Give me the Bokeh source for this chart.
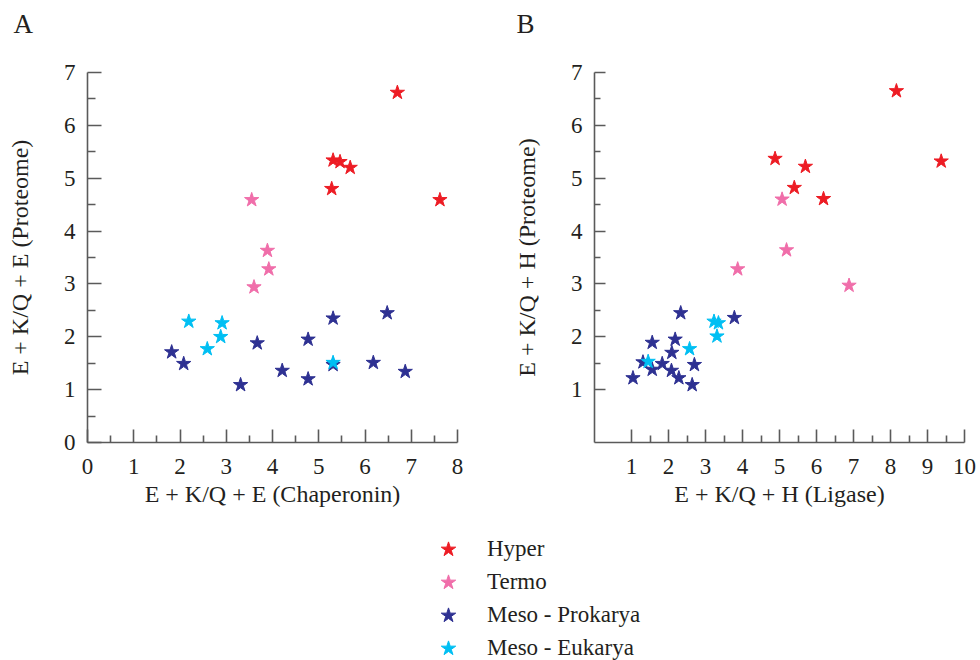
from bokeh.plotting import figure
from bokeh.models import FixedTicker, Legend, LegendItem, Range1d, Title
from bokeh.layouts import column, row
from bokeh.core.properties import value
from bokeh.embed import file_html
from bokeh.resources import INLINE

categories = ["Hyper", "Termo", "Meso - Prokarya", "Meso - Eukarya"]
colors = ["#ed1c24", "#f06eaa", "#2e3192", "#00bff3"]

# Panel A : x = E + K/Q + E (Chaperonin), y = E + K/Q + E (Proteome)
a_hyper_x = [6.70, 5.31, 5.46, 5.68, 5.28, 7.62]
a_hyper_y = [6.62, 5.34, 5.31, 5.20, 4.80, 4.59]
a_termo_x = [3.55, 3.89, 3.92, 3.60]
a_termo_y = [4.59, 3.63, 3.28, 2.94]
a_prok_x = [1.82, 2.08, 3.31, 3.67, 4.21, 4.77, 4.77, 5.31, 5.31, 6.18, 6.48, 6.87]
a_prok_y = [1.71, 1.49, 1.09, 1.88, 1.36, 1.95, 1.20, 2.35, 1.47, 1.51, 2.45, 1.34]
a_euk_x = [2.19, 2.59, 2.88, 2.91, 5.31]
a_euk_y = [2.29, 1.77, 2.00, 2.26, 1.51]

# Panel B : x = E + K/Q + H (Ligase), y = E + K/Q + H (Proteome)
b_hyper_x = [8.16, 9.37, 4.88, 5.70, 5.40, 6.19]
b_hyper_y = [6.65, 5.32, 5.37, 5.22, 4.82, 4.61]
b_termo_x = [5.07, 5.19, 3.87, 6.88]
b_termo_y = [4.60, 3.64, 3.28, 2.97]
b_prok_x = [1.04, 1.31, 1.56, 1.56, 1.83, 2.08, 2.09, 2.18, 2.33, 2.28, 2.64, 2.70, 3.78]
b_prok_y = [1.22, 1.52, 1.89, 1.38, 1.49, 1.36, 1.70, 1.95, 2.45, 1.22, 1.09, 1.47, 2.36]
b_euk_x = [1.45, 2.57, 3.23, 3.35, 3.31]
b_euk_y = [1.53, 1.77, 2.29, 2.26, 2.01]

a_xticks = [0, 1, 2, 3, 4, 5, 6, 7, 8]
a_xminor = [0.5, 1.5, 2.5, 3.5, 4.5, 5.5, 6.5, 7.5]
a_yticks = [0, 1, 2, 3, 4, 5, 6, 7]
a_yminor = [0.5, 1.5, 2.5, 3.5, 4.5, 5.5, 6.5]
b_xticks = [1, 2, 3, 4, 5, 6, 7, 8, 9, 10]
b_xminor = [1.5, 2.5, 3.5, 4.5, 5.5, 6.5, 7.5, 8.5, 9.5]
b_yticks = [1, 2, 3, 4, 5, 6, 7]
b_yminor = [1.5, 2.5, 3.5, 4.5, 5.5, 6.5]

FONT = "Liberation Serif"
TXT = "#231f20"
AX = "#5a5a5a"


def make_panel(letter, xr, yr, xticks, xminor, yticks, yminor, xlabel, ylabel,
               series, width, left, right, ymaj, ymin_len, letter_offset):
    p = figure(width=width, height=514, x_range=xr, y_range=yr,
               toolbar_location=None, output_backend="svg",
               min_border_left=left, min_border_right=right,
               min_border_top=72, min_border_bottom=72, title=letter)
    p.outline_line_color = None
    p.grid.visible = False
    p.background_fill_color = "white"
    p.border_fill_color = "white"
    p.title.align = "left"
    p.title.offset = letter_offset
    p.title.text_font = FONT
    p.title.text_font_size = "27px"
    p.title.text_font_style = "normal"
    p.title.text_color = TXT
    # blank spacer between the panel letter and the plot area
    p.add_layout(Title(text=" ", text_font_size="15px"), "above")
    for (xs, ys), col in zip(series, colors):
        p.scatter(x=xs, y=ys, marker="star", size=15, fill_color=col,
                  line_color=col)
    p.xaxis.ticker = FixedTicker(ticks=xticks, minor_ticks=xminor)
    p.yaxis.ticker = FixedTicker(ticks=yticks, minor_ticks=yminor)
    for ax in (p.xaxis[0], p.yaxis[0]):
        ax.axis_line_color = AX
        ax.axis_line_width = 1.6
        ax.major_tick_line_color = AX
        ax.minor_tick_line_color = AX
        ax.major_tick_line_width = 1.6
        ax.minor_tick_line_width = 1.6
        ax.major_tick_out = 0
        ax.minor_tick_out = 0
        ax.major_label_text_font = FONT
        ax.major_label_text_font_size = "23px"
        ax.major_label_text_color = TXT
        ax.axis_label_text_font = FONT
        ax.axis_label_text_font_size = "24px"
        ax.axis_label_text_font_style = "normal"
        ax.axis_label_text_color = TXT
    p.xaxis.major_label_standoff = 16
    p.yaxis.major_label_standoff = 12
    p.xaxis.major_tick_in = 13
    p.xaxis.minor_tick_in = 7
    p.yaxis.major_tick_in = ymaj
    p.yaxis.minor_tick_in = ymin_len
    p.xaxis.axis_label = xlabel
    p.yaxis.axis_label = ylabel
    p.xaxis.axis_label_standoff = 4
    p.yaxis.axis_label_standoff = 28
    return p


pa = make_panel("A", (0, 8), (0, 7), a_xticks, a_xminor, a_yticks, a_yminor,
                "E + K/Q + E (Chaperonin)", "E + K/Q + E (Proteome)",
                [(a_hyper_x, a_hyper_y), (a_termo_x, a_termo_y),
                 (a_prok_x, a_prok_y), (a_euk_x, a_euk_y)],
                498, 87, 41, 14, 8, -74)
pb = make_panel("B", (0, 10), (0, 7), b_xticks, b_xminor, b_yticks, b_yminor,
                "E + K/Q + H (Ligase)", "E + K/Q + H (Proteome)",
                [(b_hyper_x, b_hyper_y), (b_termo_x, b_termo_y),
                 (b_prok_x, b_prok_y), (b_euk_x, b_euk_y)],
                482, 96, 16, 11, 6, -78)

# Legend panel: one legend per category so rows can be tightly spaced
LEG_H = 146
pl = figure(width=980, height=LEG_H, x_range=Range1d(0, 1), y_range=Range1d(0, 1),
            x_axis_type=None, y_axis_type=None,
            toolbar_location=None, output_backend="svg", min_border=0)
pl.outline_line_color = None
pl.grid.visible = False
nan = float("nan")
for i, (cat, col) in enumerate(zip(categories, colors)):
    # legend key only: a renderer with no visible point
    r = pl.scatter(x=[nan], y=[nan], marker="star", size=15, fill_color=col,
                   line_color=col)
    leg = Legend(items=[LegendItem(label=value(cat), renderers=[r])],
                 location=(429, 92 - 33 * i), glyph_width=38,
                 glyph_height=38, spacing=0, padding=0, margin=0,
                 label_standoff=20, label_height=20,
                 label_text_font=FONT, label_text_font_size="23px",
                 label_text_color=TXT, border_line_alpha=0,
                 background_fill_alpha=0)
    pl.add_layout(leg)

layout = column(row(pa, pb), pl)

open("out.html", "w").write(file_html(layout, INLINE))
